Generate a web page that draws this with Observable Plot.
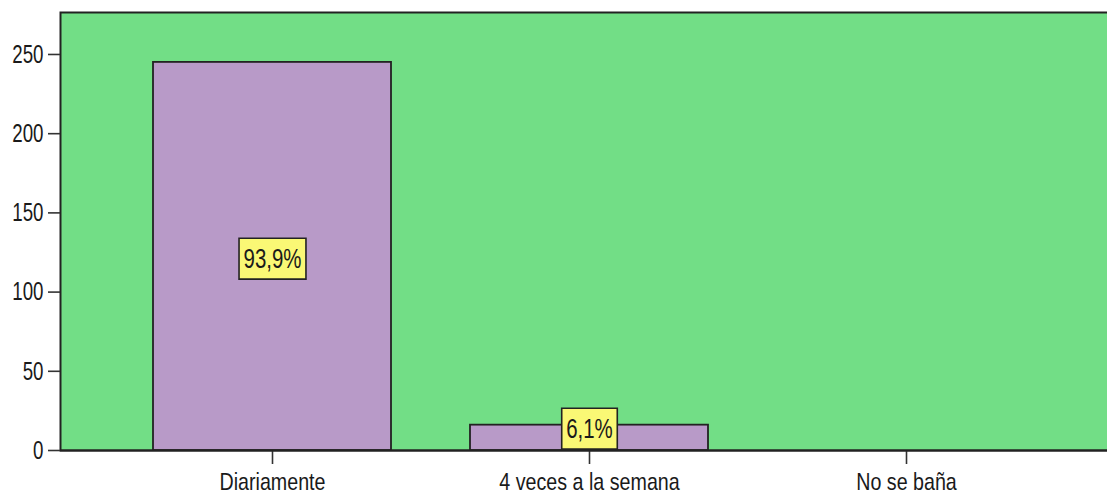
<!DOCTYPE html>
<html><head><meta charset="utf-8">
<script src="https://cdn.jsdelivr.net/npm/d3@7"></script>
<script src="https://cdn.jsdelivr.net/npm/@observablehq/plot@0.6"></script>
<style>
html,body{margin:0;padding:0;background:#fff;overflow:hidden;}
</style></head><body><div id="chart"></div>
<script>
const categories = ["Diariamente", "4 veces a la semana", "No se baña"];
const counts = [245, 16, 0];
const percentLabels = ["93,9%", "6,1%", ""];
const yTicks = [0, 50, 100, 150, 200, 250];

const data = categories.map((c, i) => ({category: c, count: counts[i], label: percentLabels[i]}));
const FONT = "'Liberation Sans', Arial, sans-serif";

const plot = Plot.plot({
  width: 1107, height: 494,
  marginLeft: 60, marginRight: 0, marginTop: 12, marginBottom: 44,
  style: {fontFamily: FONT, fontSize: "24px", color: "#1a1a1a", background: "#fff"},
  x: {domain: categories, range: [60, 1118], paddingInner: 0.25, paddingOuter: 0.289, label: null},
  y: {domain: [0, 276.5], label: null},
  marks: [
    Plot.frame({fill: "#72DE86", stroke: "#222", strokeWidth: 2, insetRight: -3}),
    Plot.barY(data.filter(d => d.count > 0), {x: "category", y: "count", fill: "#B89AC8", stroke: "#222", strokeWidth: 1.8}),
    Plot.axisY({ticks: yTicks, tickSize: 12, tickPadding: 5, tickFormat: d => String(d), stroke: "#333", strokeWidth: 1.6, fontSize: 26, label: null}),
    Plot.axisX({tickSize: 14, tickPadding: 8, stroke: "#333", strokeWidth: 1.6, fontSize: 24, label: null}),
    Plot.ruleY([0], {stroke: "#222", strokeWidth: 2}),
    Plot.text(data.filter(d => d.label), {x: "category", y: d => Math.max(d.count / 2, 15.2), dy: 3, text: "label", fontSize: 28, fill: "#1a1a1a"})
  ]
});
document.getElementById("chart").append(plot);

function squeeze(sel, s) {
  d3.select(plot).selectAll(sel).each(function() {
    let t = this.getAttribute("transform");
    if (!t) {
      const x = this.getAttribute("x") || 0, y = this.getAttribute("y") || 0;
      this.removeAttribute("x"); this.removeAttribute("y");
      t = `translate(${x},${y})`;
    }
    this.setAttribute("transform", t + ` scale(${s},1)`);
  });
}
squeeze('g[aria-label="y-axis tick label"] text', 0.72);
squeeze('g[aria-label="x-axis tick label"] text', 0.82);
const sP = 0.73;
squeeze('g[aria-label="text"] text', sP);

const padX = 4.5 / sP, padY = 5;
d3.select(plot).selectAll('g[aria-label="text"] text').each(function() {
  const b = this.getBBox();
  const r = document.createElementNS("http://www.w3.org/2000/svg", "rect");
  r.setAttribute("x", b.x - padX);
  r.setAttribute("y", b.y - padY);
  r.setAttribute("width", b.width + 2 * padX);
  r.setAttribute("height", b.height + 2 * padY);
  r.setAttribute("transform", this.getAttribute("transform"));
  r.setAttribute("fill", "#FAF875");
  r.setAttribute("stroke", "#222");
  r.setAttribute("stroke-width", "1.6");
  r.setAttribute("vector-effect", "non-scaling-stroke");
  this.parentNode.insertBefore(r, this);
});
</script></body></html>
